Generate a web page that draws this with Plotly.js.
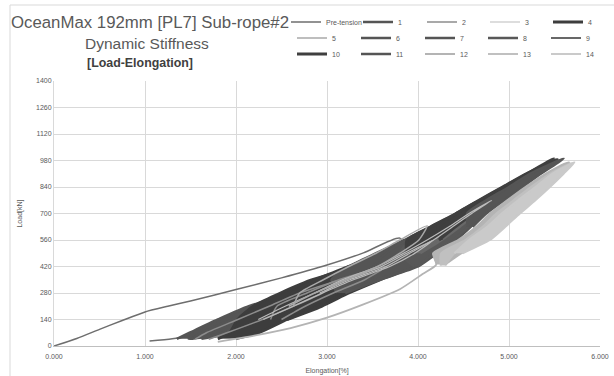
<!DOCTYPE html>
<html><head><meta charset="utf-8">
<script src="https://cdn.plot.ly/plotly-3.0.1.min.js"></script>
<style>html,body{margin:0;padding:0;background:#fff}#chart{width:614px;height:376px}</style>
</head><body><div id="chart"></div>
<script>
// ---- data (elongation in %, load in kN) ----
const seriesNames = ['Pre-tension','1','2','3','4','5','6','7','8','9','10','11','12','13','14'];

const preX = [0, 0.25, 0.5, 0.75, 1.0, 1.25, 1.5, 2.0, 2.5, 3.0, 3.4, 3.8, 3.875, 3.69, 3.29, 2.95, 2.63, 2.20, 1.675, 1.30, 1.05];
const preY = [0, 40, 88, 135, 180, 210, 238, 298, 360, 428, 492, 570, 490, 420, 350, 280, 210, 140, 70, 38, 26];

const s1X = [1.35, 1.49, 1.80, 2.14, 2.70, 2.58, 2.25, 1.86, 1.48, 1.56, 1.885, 2.23, 2.78, 2.72, 2.38, 1.975, 1.62];
const s1Y = [38, 70, 140, 210, 280, 210, 140, 70, 38, 70, 140, 210, 290, 210, 140, 70, 38];

const s2X = [1.55, 1.675, 2.02, 2.364, 2.70, 3.17, 2.95, 2.63, 2.29, 1.90, 1.70, null, 2.38, 2.45, 2.78, 3.13, 3.65, 3.415, 3.07, 2.76, 2.50];
const s2Y = [36, 70, 140, 210, 280, 350, 280, 210, 140, 70, 36, null, 140, 210, 280, 350, 420, 350, 280, 210, 140];

const s3X = [2.245, 2.54, 2.865, 3.21, 3.60, 3.875, 4.17, 3.965, 3.69, 3.29, 2.95, 2.63, 2.30, null, 2.865, 3.17, 3.555, 3.84, 4.10, 4.34, 4.56, 4.81, 4.59, 4.38, 4.17, 3.91, 3.65, 3.25, 2.92];
const s3Y = [140, 210, 280, 350, 420, 490, 560, 490, 420, 350, 280, 210, 140, null, 280, 350, 420, 490, 560, 630, 700, 770, 700, 630, 560, 490, 420, 350, 280];

const s4X = [1.80, 1.93, 2.02, 2.19, 2.49, 2.84, 3.465, 3.50, 3.20, 2.89, 2.56, 2.25, 2.00, null, 2.47, 2.50, 2.62, 2.88, 3.24, 3.61, 4.07, 4.175, 3.96, 3.58, 3.24, 2.94, 2.56];
const s4Y = [38, 70, 140, 210, 280, 350, 420, 350, 280, 210, 140, 70, 40, null, 140, 210, 280, 350, 420, 490, 560, 490, 420, 350, 280, 210, 140];

const s5X = [2.63, 2.70, 2.96, 3.24, 3.54, 3.80, 4.10, 4.01, 3.80, 3.555, 3.21, 2.865, 2.58];
const s5Y = [210, 280, 350, 420, 490, 560, 635, 560, 490, 420, 350, 280, 210];

const s6X = [3.11, 3.05, 3.24, 3.54, 3.85, 4.14, 4.435, 4.81, 4.73, 4.58, 4.42, 4.21, 4.00, 3.58, 3.20];
const s6Y = [280, 350, 420, 490, 560, 630, 700, 770, 700, 630, 560, 490, 420, 350, 280];

const s7X = [3.50, 3.51, 3.65, 3.88, 4.17, 4.435, 4.71, 5.04, 4.91, 4.70, 4.53, 4.355, 4.14, 3.96, 3.54];
const s7Y = [350, 420, 490, 560, 630, 700, 770, 840, 770, 700, 630, 560, 490, 420, 350];

const s8X = [3.96, 3.80, 3.915, 4.17, 4.435, 4.70, 4.95, 5.21, 5.50, 5.33, 5.13, 4.92, 4.715, 4.55, 4.39, 4.175, 4.00];
const s8Y = [420, 490, 560, 630, 700, 770, 840, 910, 980, 910, 840, 770, 700, 630, 560, 490, 420];

const s9X = [3.95, 4.01, 4.26, 4.505, 4.75, 4.996, 5.24, 5.54, 5.31, 5.08, 4.87, 4.645, 4.46, 4.26, 4.025];
const s9Y = [490, 560, 630, 700, 770, 840, 910, 980, 910, 840, 770, 700, 630, 560, 490];

const s10X = [3.875, 3.88, 4.14, 4.42, 4.68, 4.94, 5.20, 5.49, 5.27, 5.04, 4.81, 4.575, 4.36, 4.135, 3.91, null, 4.26, 4.22, 4.42, 4.67, 4.93, 5.19, 5.53, 5.29, 5.06, 4.84, 4.61, 4.41, 4.23];
const s10Y = [490, 560, 630, 700, 770, 840, 910, 990, 910, 840, 770, 700, 630, 560, 490, null, 560, 630, 700, 770, 840, 910, 985, 910, 840, 770, 700, 630, 560];

const s11X = [4.55, 4.54, 4.75, 5.00, 5.23, 5.60, 5.35, 5.15, 4.95, 4.75, 4.60];
const s11Y = [630, 700, 770, 840, 910, 990, 910, 840, 770, 700, 630];

const s12X = [1.80, 2.20, 2.60, 3.00, 3.40, 3.80, 4.05, 4.20, 4.165, 4.44, 4.64, 4.79, 4.98, 5.18, 5.40, 5.66, 5.59, 5.44, 5.27, 5.10, 4.94, 4.77, 4.48, 4.30];
const s12Y = [22, 55, 95, 150, 220, 300, 380, 430, 490, 560, 630, 700, 770, 840, 910, 970, 910, 840, 770, 700, 630, 560, 490, 430];

const s13X = [4.25, 4.255, 4.52, 4.71, 4.86, 5.05, 5.24, 5.45, 5.68, 5.55, 5.37, 5.19, 5.01, 4.85, 4.67, 4.40, 4.30];
const s13Y = [425, 490, 560, 630, 700, 770, 840, 910, 965, 910, 840, 770, 700, 630, 560, 490, 425];

const s14X = [4.40, 4.56, 4.76, 4.92, 5.10, 5.29, 5.475, 5.72, 5.60, 5.45, 5.29, 5.12, 4.96, 4.79, 4.49];
const s14Y = [490, 560, 630, 700, 770, 840, 910, 970, 910, 840, 770, 700, 630, 560, 490];

const xTickVals = [0, 1, 2, 3, 4, 5, 6];
const yTickVals = [0, 140, 280, 420, 560, 700, 840, 980, 1120, 1260, 1400];

// ---- styles ----
const allX = [preX, s1X, s2X, s3X, s4X, s5X, s6X, s7X, s8X, s9X, s10X, s11X, s12X, s13X, s14X];
const allY = [preY, s1Y, s2Y, s3Y, s4Y, s5Y, s6Y, s7Y, s8Y, s9Y, s10Y, s11Y, s12Y, s13Y, s14Y];
const colors = ['#6e6e6e','#555555','#8c8c8c','#bcbcbc','#3d3d3d','#a8a8a8','#555555','#555555','#585858','#686868','#3f3f3f','#555555','#b4b4b4','#c0c0c0','#cacaca'];
const widths = [1.5, 2.5, 1.5, 1.2, 3, 1.5, 2.5, 2.5, 2.5, 2.2, 3, 2.5, 1.8, 2, 2];
const filled = [false, true, false, false, true, false, true, true, true, true, true, true, true, true, true];
// index where the cycling loops start (the first loading ramp of series 12 is not a loop)
const loopStart = [0, 0, 0, 0, 0, 0, 0, 0, 0, 0, 0, 0, 7, 0, 0];
// drawing order (legend order is kept by separate legends)
const drawOrder = [0, 1, 4, 6, 7, 8, 9, 10, 11, 2, 3, 5, 12, 13, 14];

const FONT = 'Liberation Sans, Arial, sans-serif';
const W = 614, H = 376;
const colLeft = [292, 356, 420, 483, 546];
const rowY = [22, 38, 54];

const traces = [];
drawOrder.forEach(i => {
  const legendKey = i === 0 ? 'legend' : 'legend' + (i + 1);
  if (filled[i]) {
    traces.push({
      type: 'scatter', mode: 'lines', name: seriesNames[i],
      x: allX[i].slice(loopStart[i]), y: allY[i].slice(loopStart[i]),
      line: {color: colors[i], width: 0, shape: 'spline', smoothing: 0.6},
      fill: 'toself', fillcolor: colors[i], connectgaps: false,
      showlegend: false, hoverinfo: 'skip'
    });
  }
  traces.push({
    type: 'scatter', mode: 'lines', name: seriesNames[i], x: allX[i], y: allY[i],
    line: {color: colors[i], width: widths[i], shape: 'spline', smoothing: 0.6},
    connectgaps: false, legend: legendKey, hoverinfo: 'skip'
  });
});

const layout = {
  width: W, height: H,
  margin: {l: 54, r: 14, t: 81, b: 30},
  paper_bgcolor: '#ffffff', plot_bgcolor: '#ffffff',
  font: {family: FONT, color: '#595959'},
  xaxis: {
    range: [0, 6], tickvals: xTickVals, tickformat: '.3f', ticksuffix: '%',
    gridcolor: '#d9d9d9', gridwidth: 1, showline: true, linecolor: '#bfbfbf', linewidth: 1,
    zeroline: false, ticks: '', ticklabelstandoff: 4, tickfont: {size: 7, color: '#595959', family: FONT},
    title: {text: 'Elongation[%]', font: {size: 7, color: '#595959', family: FONT}, standoff: 8}
  },
  yaxis: {
    range: [0, 1400], tickvals: yTickVals,
    gridcolor: '#d9d9d9', gridwidth: 1, showline: true, linecolor: '#d9d9d9', linewidth: 1,
    zeroline: false, ticks: '', tickfont: {size: 7, color: '#595959', family: FONT},
    title: {text: 'Load[kN]', font: {size: 7, color: '#595959', family: FONT}, standoff: 12}
  },
  shapes: [{type: 'rect', xref: 'paper', yref: 'paper', x0: (10 - 54) / 546, x1: 1.2, y0: -0.3, y1: (346 - 5) / 265,
    line: {color: '#d9d9d9', width: 1}, fillcolor: 'rgba(0,0,0,0)', layer: 'below'}],
  annotations: [
    {text: 'OceanMax 192mm [PL7] Sub-rope#2', xref: 'paper', yref: 'paper', x: (150 - 54) / 546, y: (346 - 22) / 265,
      showarrow: false, xanchor: 'center', yanchor: 'middle', font: {size: 16.8, color: '#595959', family: FONT}},
    {text: 'Dynamic Stiffness', xref: 'paper', yref: 'paper', x: (146.5 - 54) / 546, y: (346 - 43) / 265,
      showarrow: false, xanchor: 'center', yanchor: 'middle', font: {size: 15.5, color: '#595959', family: FONT}},
    {text: '<b>[Load-Elongation]</b>', xref: 'paper', yref: 'paper', x: (140 - 54) / 546, y: (346 - 63) / 265,
      showarrow: false, xanchor: 'center', yanchor: 'middle', font: {size: 12.4, color: '#404040', family: FONT}}
  ],
  showlegend: true
};

seriesNames.forEach((n, i) => {
  const row = Math.floor(i / 5), col = i % 5;
  let left = colLeft[col];
  if (row === 0 && col === 0) left = 286;
  if (row === 0 && col > 0) left = colLeft[col] + 2;
  const key = i === 0 ? 'legend' : 'legend' + (i + 1);
  layout[key] = {
    x: left / W, y: 1 - rowY[row] / H, xref: 'container', yref: 'container',
    xanchor: 'left', yanchor: 'middle', orientation: 'h',
    bgcolor: 'rgba(0,0,0,0)', borderwidth: 0, itemwidth: 30,
    font: {size: 7, color: '#595959', family: FONT}
  };
});

Plotly.newPlot('chart', traces, layout, {staticPlot: true, displayModeBar: false});
</script>
</body></html>
